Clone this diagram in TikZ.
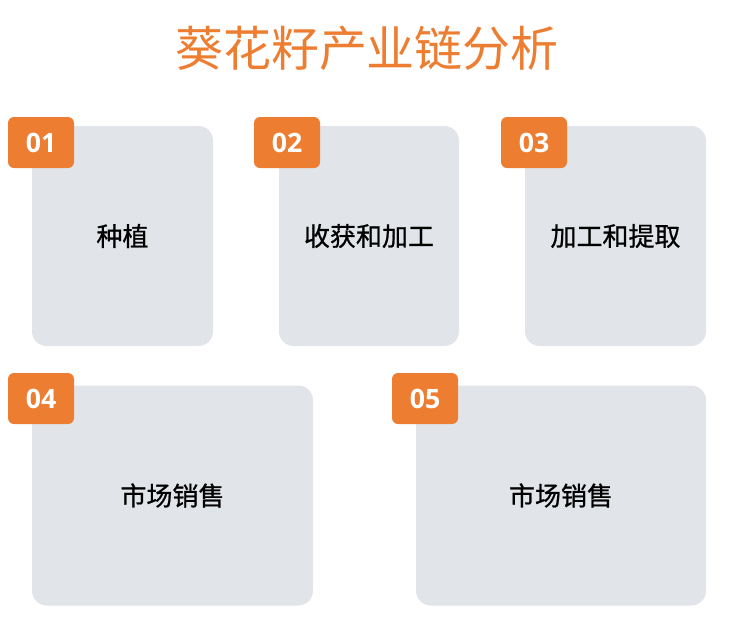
\documentclass[tikz,border=0pt]{standalone}
\usepackage{fontspec}
\setmainfont{Open Sans}
\newfontfamily\cjk{Noto Sans CJK SC}
\newfontfamily\cjkbody[FakeBold=0.8]{Noto Sans CJK SC}
\usetikzlibrary{positioning}

\definecolor{badgeorange}{HTML}{ED7D31}
\definecolor{cardgray}{HTML}{E1E4E8}

\tikzset{
  card/.style={fill=cardgray, rounded corners=11pt, inner sep=0pt, minimum height=165pt,
    font=\cjkbody\fontsize{19.5}{23}\selectfont},
  badge/.style={fill=badgeorange, rounded corners=4.5pt, inner sep=0pt,
    minimum width=49.5pt, minimum height=38.25pt, text=white,
    font=\bfseries\fontsize{20}{24}\selectfont},
}

\begin{document}
\begin{tikzpicture}[x=0.75pt, y=-0.75pt]
  \useasboundingbox (0,0) rectangle (729,626);

  % Title
  \node[text=badgeorange, font=\cjk\fontsize{36}{40}\selectfont] (title) at (367,48) {葵花籽产业链分析};

  % Upper row
  \node[card, minimum width=135.75pt] (plant) at (122.5,236) {种植};
  \node[card, minimum width=135pt] (harvest) at (369,236) {收获和加工};
  \node[card, minimum width=135.75pt] (extract) at (615.5,236) {加工和提取};

  % Lower row
  \node[card, minimum width=210.75pt] (salesa) at (172.5,495.5) {市场销售};
  \node[card, minimum width=217.5pt] (salesb) at (561,495.5) {市场销售};

  % Number badges
  \node[badge] (n1) at (41,142.5) {01};
  \node[badge] (n2) at (287,142.5) {02};
  \node[badge] (n3) at (534,142.5) {03};
  \node[badge] (n4) at (41,398.5) {04};
  \node[badge] (n5) at (425,398.5) {05};
\end{tikzpicture}
\end{document}
